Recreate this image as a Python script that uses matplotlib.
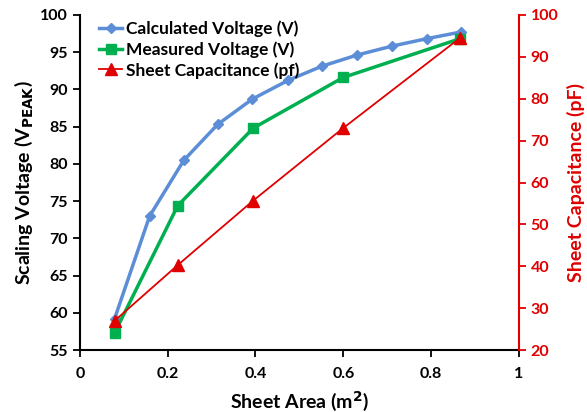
import matplotlib.pyplot as plt
import numpy as np

plt.rcParams['font.family'] = ['Lato', 'DejaVu Sans']
plt.rcParams['font.weight'] = 'bold'

# calculated voltage
calc_area = [0.079, 0.159, 0.237, 0.314, 0.393, 0.474, 0.551, 0.631, 0.711, 0.790, 0.868]
calc_volt = [59.2, 73.0, 80.5, 85.3, 88.7, 91.2, 93.1, 94.6, 95.8, 96.8, 97.7]
# measured voltage
meas_area = [0.079, 0.223, 0.395, 0.600, 0.866]
meas_volt = [57.3, 74.4, 84.8, 91.6, 96.8]
# sheet capacitance (pF)
cap_area = [0.079, 0.223, 0.395, 0.600, 0.866]
cap_val = [27.0, 40.3, 55.7, 73.0, 94.5]

blue = '#5B8ED6'
green = '#00B050'
red = '#E00000'

fig = plt.figure(figsize=(5.87, 4.12), dpi=100)
ax = fig.add_axes([0.136, 0.150, 0.748, 0.814])
ax2 = ax.twinx()

l1, = ax.plot(calc_area, calc_volt, color=blue, lw=2.5, marker='D', ms=5,
              label='Calculated Voltage (V)')
l2, = ax.plot(meas_area, meas_volt, color=green, lw=2.5, marker='s', ms=7,
              label='Measured Voltage (V)')
l3, = ax2.plot(cap_area, cap_val, color=red, lw=1.3, marker='^', ms=9,
               label='Sheet Capacitance (pf)')

ax.set_xlim(0, 1)
ax.set_ylim(55, 100)
ax2.set_ylim(20, 100)
ax.set_xticks(np.arange(0, 1.01, 0.2))
ax.set_xticklabels(['0', '0.2', '0.4', '0.6', '0.8', '1'])
ax.set_yticks(np.arange(55, 101, 5))
ax2.set_yticks(np.arange(20, 101, 10))

for a in (ax, ax2):
    a.spines['top'].set_visible(False)
ax.spines['right'].set_visible(False)
ax2.spines['left'].set_visible(False)
ax2.spines['bottom'].set_visible(False)
ax.spines['left'].set_linewidth(1.5)
ax.spines['bottom'].set_linewidth(1.5)
ax2.spines['right'].set_color(red)
ax2.spines['right'].set_linewidth(1.5)

ax.tick_params(direction='out', length=5, width=1.3, labelsize=11.5)
ax.tick_params(axis='x', pad=7)
ax2.tick_params(direction='out', length=5, width=1.3, labelsize=11.5,
                colors=red)

ax.set_xlabel('Sheet Area (m$^\\mathbf{2}$)', fontsize=14, fontweight='bold',
              labelpad=6)
ax.set_ylabel('Scaling Voltage (V$_{\\mathbf{PEAK}}$)', fontsize=14, fontweight='bold')
ax2.set_ylabel('Sheet Capacitance (pF)', fontsize=14, fontweight='bold', color=red,
               labelpad=6)

ax.legend(handles=[l1, l2, l3], loc='upper left', frameon=False, fontsize=12.5,
          handlelength=1.3, borderaxespad=0.1, labelspacing=0.25,
          bbox_to_anchor=(0.025, 1.01), handletextpad=0.2)

fig.savefig('out.png', dpi=100)
